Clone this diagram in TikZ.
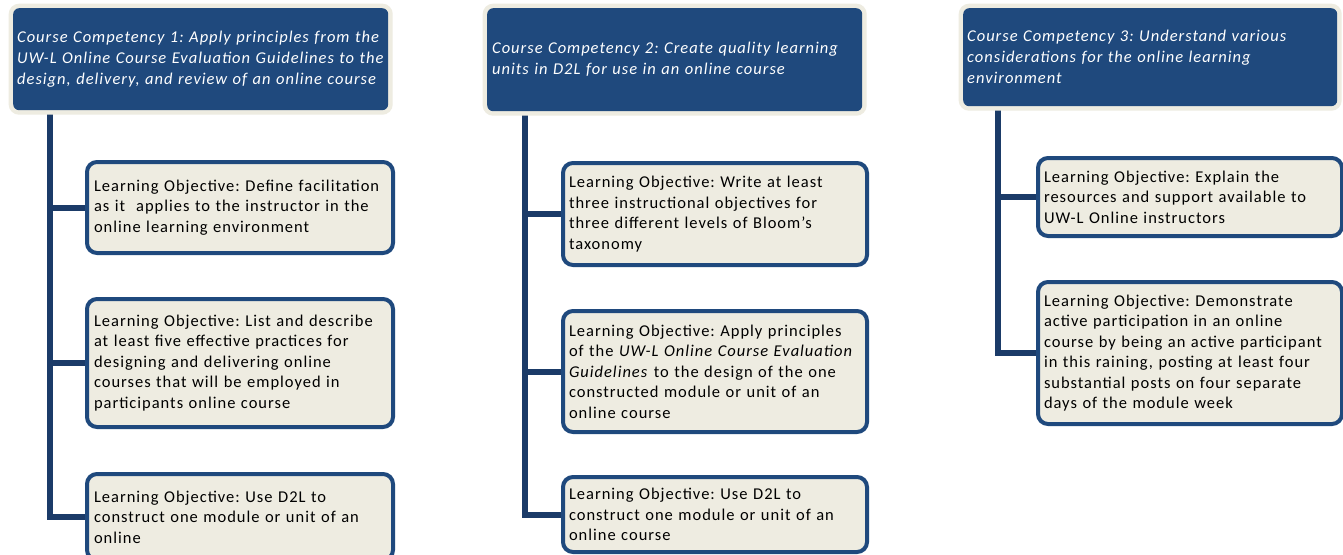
\documentclass[tikz,border=0pt]{standalone}
\usepackage{fontspec}
\setmainfont{Carlito}[LetterSpace=6]
\usetikzlibrary{backgrounds}
\definecolor{compblue}{HTML}{1F497D}
\definecolor{lineblue}{HTML}{1B3B68}
\definecolor{paper}{HTML}{EEECE1}
\frenchspacing
\begin{document}
\begin{tikzpicture}[x=1pt,y=-1pt,
  comp/.style={rectangle, rounded corners=6pt, fill=compblue,
    preaction={draw=paper, line width=9pt, rounded corners=6pt},
    text=white, font=\fontsize{16.5}{21}\selectfont\itshape,
    align=left, anchor=north west, inner xsep=4pt, inner ysep=0pt},
  objective/.style={rectangle, rounded corners=10pt, draw=compblue,
    line width=4pt, fill=paper, text=black,
    font=\fontsize{16.5}{20.5}\selectfont,
    align=left, anchor=north west, inner xsep=7pt, inner ysep=0pt},
  conn/.style={draw=lineblue, line width=6pt, line join=miter}]

\useasboundingbox (0,0) rectangle (1343,554);

% course competencies
\node[comp, text width=367pt, minimum height=102pt] (c1) at (13,8)
  {Course Competency 1: Apply principles from the\\UW-L Online Course Evaluation Guidelines to the\\design, delivery, and review of an online course};
\node[comp, text width=365pt, inner xsep=5pt, minimum height=103pt] (c2) at (487,8)
  {Course Competency 2: Create quality learning\\units in D2L for use in an online course};
\node[comp, text width=366pt, minimum height=98pt] (c3) at (963,8)
  {Course Competency 3: Understand various\\considerations for the online learning\\environment};

% learning objectives, competency 1
\node[objective, text width=292pt, minimum height=91pt] (o11) at (85,160)
  {Learning Objective: Define facilitation\\as it\ \ applies to the instructor in the\\online learning environment};
\node[objective, text width=292pt, minimum height=128pt] (o12) at (85,297)
  {Learning Objective: List and describe\\at least five effective practices for\\designing and delivering online\\courses that will be employed in\\participants online course};
\node[objective, text width=292pt, minimum height=86pt] (o13) at (85,472)
  {Learning Objective: Use D2L to\\construct one module or unit of an\\online};

% learning objectives, competency 2
\node[objective, text width=292pt, inner xsep=6pt, minimum height=102pt] (o21) at (561,161)
  {Learning Objective: Write at least\\three instructional objectives for\\three different levels of Bloom's\\taxonomy};
\node[objective, text width=292pt, inner xsep=6pt, minimum height=121pt] (o22) at (561,309)
  {Learning Objective: Apply principles\\of the \textit{UW-L Online Course Evaluation}\\\textit{Guidelines} to the design of the one\\constructed module or unit of an\\online course};
\node[objective, text width=292pt, inner xsep=6pt, minimum height=75pt] (o23) at (561,475)
  {Learning Objective: Use D2L to\\construct one module or unit of an\\online course};

% learning objectives, competency 3
\node[objective, text width=292pt, inner xsep=6pt, minimum height=78pt] (o31) at (1036,156)
  {Learning Objective: Explain the\\resources and support available to\\UW-L Online instructors};
\node[objective, text width=292pt, inner xsep=6pt, minimum height=142pt] (o32) at (1036,280)
  {Learning Objective: Demonstrate\\active participation in an online\\course by being an active participant\\in this raining, posting at least four\\substantial posts on four separate\\days of the module week};

% white page and tree connectors behind the boxes
\begin{scope}[on background layer]
  \fill[white] (0,0) rectangle (1343,554);
  \coordinate (t1) at ([xshift=37pt]c1.south west);
  \coordinate (t2) at ([xshift=38pt]c2.south west);
  \coordinate (t3) at ([xshift=35pt]c3.south west);
  \draw[conn] (t1) -- (t1 |- o13.west) -- (o13.west);
  \draw[conn] (t1 |- o11.west) -- (o11.west);
  \draw[conn] (t1 |- o12.west) -- (o12.west);
  \draw[conn] (t2) -- (t2 |- o23.west) -- (o23.west);
  \draw[conn] (t2 |- o21.west) -- (o21.west);
  \draw[conn] (t2 |- o22.west) -- (o22.west);
  \draw[conn] (t3) -- (t3 |- o32.west) -- (o32.west);
  \draw[conn] (t3 |- o31.west) -- (o31.west);
\end{scope}
\end{tikzpicture}
\end{document}
